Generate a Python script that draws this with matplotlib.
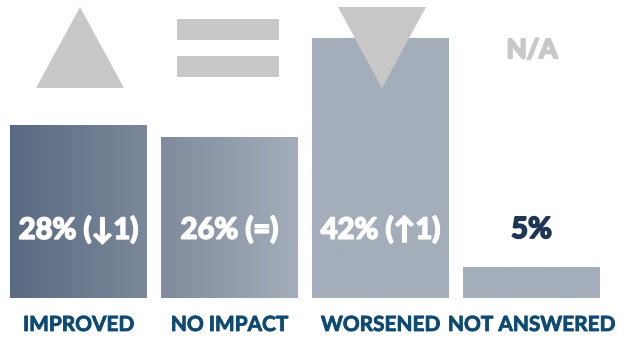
import matplotlib.pyplot as plt
import matplotlib.patheffects as pe
import numpy as np
from matplotlib.colors import LinearSegmentedColormap
from matplotlib.patches import Polygon, Rectangle

categories = ['IMPROVED', 'NO IMPACT', 'WORSENED', 'NOT ANSWERED']
values = [28, 26, 42, 5]
value_labels = ['28% (↓1)', '26% (=)', '42% (↑1)', '5%']
gradients = [('#5a6a82', '#7b889a'), ('#7f8b9c', '#a4aeba'),
             ('#a4aeba', '#a4aeba'), ('#a4aeba', '#a4aeba')]
label_colors = ['white', 'white', 'white', '#1e3553']

plt.rcParams['font.family'] = ['Lato', 'DejaVu Sans']


def heavy(col, lw=1.0):
    # thicken the glyphs a bit, the source font is heavier than Lato Bold
    return [pe.withStroke(linewidth=lw, foreground=col)]


fig = plt.figure(figsize=(6.24, 3.4), dpi=100)
ax = fig.add_axes([3 / 624, 42 / 340, 604 / 624, 296.6 / 340])
ax.set_xlim(-0.5, 3.5)
ax.set_ylim(0, 48)
ax.axis('off')

x = np.arange(len(categories))
bars = ax.bar(x, values, width=137 / 151, color='#a4aeba', zorder=2)

grad = np.linspace(0, 1, 256).reshape(1, -1)
for bar, (c0, c1) in zip(bars, gradients):
    cmap = LinearSegmentedColormap.from_list('g', [c0, c1])
    x0, w, h = bar.get_x(), bar.get_width(), bar.get_height()
    im = ax.imshow(grad, cmap=cmap, aspect='auto', extent=(x0, x0 + w, 0, h),
                   zorder=3)
    im.set_clip_path(bar)

# value labels, y level of the text in data units
label_y = (298 - 230) / 6.18
for xi, txt, col in zip(x, value_labels, label_colors):
    ax.text(xi, label_y, txt, ha='center', va='center', color=col,
            fontsize=21, fontweight='bold', zorder=5, path_effects=heavy(col, 1.3))

# category labels
for xi, cat in zip(x, categories):
    ax.text(xi, -27 / 6.18, cat, ha='center', va='center', color='#0e4a72',
            fontsize=15, fontweight='bold', zorder=5,
            path_effects=heavy('#0e4a72', 0.6))

# icons (figure pixel coords, origin top-left)
def px(xp, yp):
    return (xp / 624, 1 - yp / 340)

grey = '#c8c8c8'
fig.add_artist(Polygon([px(80, 7), px(124, 88), px(36, 88)], closed=True,
                       facecolor=grey, edgecolor='none', transform=fig.transFigure))
for y0, y1 in [(19, 40), (56, 77)]:
    fig.add_artist(Rectangle(px(177, y1), 102 / 624, (y1 - y0) / 340,
                             facecolor=grey, edgecolor='none',
                             transform=fig.transFigure))
fig.add_artist(Polygon([px(338, 7), px(426, 7), px(382, 88)], closed=True,
                       facecolor=grey, edgecolor='none', transform=fig.transFigure,
                       zorder=10))
fig.text(532 / 624, 1 - 50 / 340, 'N/A', ha='center', va='center', color=grey,
         fontsize=19, fontweight='bold', path_effects=heavy(grey, 1.5))

fig.savefig('out.png', dpi=100)
